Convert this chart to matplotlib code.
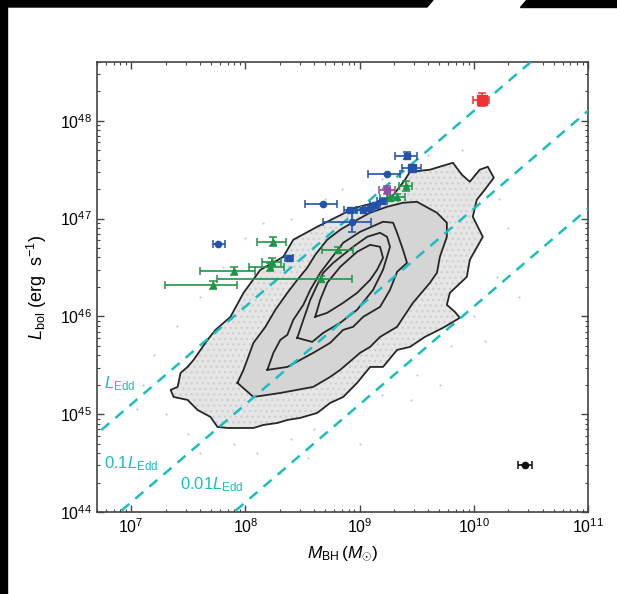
import numpy as np
import matplotlib
matplotlib.use("Agg")
import matplotlib.pyplot as plt
from matplotlib.patches import Polygon
from matplotlib.ticker import LogLocator, NullFormatter

plt.rcParams["font.family"] = ["Liberation Sans", "DejaVu Sans"]
plt.rcParams["mathtext.fontset"] = "custom"
plt.rcParams["mathtext.rm"] = "Liberation Sans"
plt.rcParams["mathtext.it"] = "Liberation Sans:italic"
plt.rcParams["mathtext.bf"] = "Liberation Sans:bold"
plt.rcParams["hatch.linewidth"] = 1.0

# ---- data (log10 M_BH [Msun], log10 L_bol [erg/s]) ----------------------
L_EDD_PER_MSUN = 1.26e38
EDD_FRACTIONS = [1.0, 0.1, 0.01]
EDD_LABELS = [r"$L_{\rm Edd}$", r"$0.1L_{\rm Edd}$", r"$0.01L_{\rm Edd}$"]
EDD_LABEL_LOGM = [6.76, 6.76, 7.43]
EDD_LABEL_LOGL = [45.31, 44.49, 44.28]

# quasar density contours, outermost first
contour_1 = [(7.668, 45.760), (7.546, 45.555), (7.493, 45.483), (7.432, 45.422),
             (7.406, 45.279), (7.345, 45.248), (7.371, 45.176), (7.493, 45.146),
             (7.581, 45.043), (7.694, 44.972), (7.755, 44.870), (7.843, 44.859),
             (8.070, 44.859), (8.157, 44.890), (8.279, 44.910), (8.367, 44.941),
             (8.480, 44.962), (8.629, 45.013), (8.742, 45.115), (8.856, 45.176),
             (8.978, 45.320), (9.092, 45.483), (9.205, 45.483), (9.328, 45.657),
             (9.441, 45.688), (9.572, 45.790), (9.729, 45.882), (9.878, 45.985),
             (9.834, 46.046), (9.764, 46.118), (9.790, 46.240), (9.939, 46.404),
             (9.965, 46.578), (10.079, 46.813), (9.991, 47.018), (10.026, 47.192),
             (10.096, 47.294), (10.175, 47.417), (10.122, 47.529), (10.052, 47.499),
             (9.965, 47.376), (9.895, 47.448), (9.817, 47.570), (9.616, 47.499),
             (9.441, 47.478), (9.397, 47.396), (9.284, 47.223), (9.135, 47.161),
             (8.961, 47.110), (8.803, 47.018), (8.629, 46.916), (8.419, 46.783),
             (8.332, 46.609), (8.131, 46.476), (7.983, 46.240), (7.869, 45.995),
             (7.738, 45.862)]
contour_2 = [(7.930, 45.320), (7.983, 45.453), (8.070, 45.729), (8.175, 45.893),
             (8.262, 46.067), (8.367, 46.240), (8.454, 46.373), (8.541, 46.496),
             (8.611, 46.629), (8.716, 46.783), (8.830, 46.885), (8.978, 46.987),
             (9.092, 47.059), (9.240, 47.120), (9.380, 47.161), (9.502, 47.171),
             (9.677, 47.059), (9.764, 46.957), (9.764, 46.813), (9.703, 46.609),
             (9.677, 46.445), (9.616, 46.343), (9.467, 46.138), (9.328, 45.893),
             (9.179, 45.790), (9.092, 45.688), (9.004, 45.627), (8.830, 45.453),
             (8.742, 45.381), (8.594, 45.279), (8.306, 45.217), (8.070, 45.176)]
contour_3 = [(8.192, 45.453), (8.245, 45.627), (8.306, 45.760), (8.367, 45.811),
             (8.419, 45.964), (8.507, 46.118), (8.568, 46.271), (8.655, 46.445),
             (8.742, 46.578), (8.856, 46.752), (9.004, 46.864), (9.205, 46.967),
             (9.293, 46.957), (9.328, 46.854), (9.380, 46.680), (9.415, 46.547),
             (9.328, 46.455), (9.266, 46.271), (9.179, 46.097), (9.031, 45.995),
             (8.943, 45.893), (8.856, 45.862), (8.742, 45.729), (8.594, 45.627),
             (8.367, 45.483)]
contour_4 = [(8.454, 45.780), (8.507, 45.964), (8.568, 46.169), (8.629, 46.322),
             (8.681, 46.445), (8.769, 46.547), (8.943, 46.711), (9.066, 46.813),
             (9.179, 46.854), (9.240, 46.813), (9.266, 46.711), (9.240, 46.609),
             (9.205, 46.476), (9.118, 46.271), (8.978, 46.067), (8.830, 45.934),
             (8.681, 45.831), (8.585, 45.739)]
contour_5 = [(8.611, 45.995), (8.655, 46.169), (8.716, 46.343), (8.830, 46.506),
             (8.978, 46.660), (9.092, 46.731), (9.179, 46.711), (9.205, 46.598),
             (9.153, 46.476), (9.092, 46.373), (8.978, 46.240), (8.856, 46.138),
             (8.716, 46.036)]
CONTOURS = [contour_1, contour_2, contour_3, contour_4, contour_5]

# sparse quasars lying outside the outermost contour
sparse_logm = [7.20, 7.30, 7.50, 7.90, 8.10, 8.40, 8.60, 8.90, 9.20, 9.50,
               9.80, 10.00, 10.20, 10.30, 10.22, 9.90, 9.60, 9.20, 8.70, 8.40,
               8.00, 7.80, 7.60, 7.40, 7.10, 8.30, 9.00, 9.70, 10.40, 7.60,
               8.15, 8.85, 9.45, 10.10, 7.05, 8.55]
sparse_logl = [45.60, 45.00, 44.80, 44.70, 44.60, 44.75, 44.85, 45.00, 45.20, 45.40,
               45.70, 46.00, 46.40, 46.90, 47.20, 47.70, 47.65, 47.40, 47.20, 47.00,
               46.80, 46.50, 46.20, 45.90, 45.30, 44.40, 44.70, 45.30, 46.20, 44.60,
               46.95, 47.30, 45.15, 45.75, 45.05, 44.55]

# high-z quasars: log M, log L, lower/upper log M error, log L error
blue_circ_logm = [7.764, 8.681, 8.934, 9.240]
blue_circ_logl = [46.742, 47.151, 46.967, 47.458]
blue_circ_mlo = [0.052, 0.157, 0.253, 0.166]
blue_circ_mhi = [0.061, 0.122, 0.166, 0.114]
blue_circ_lerr = [0.0, 0.0, 0.10, 0.0]

blue_sq_logm = [9.415, 9.459, 8.917, 9.031, 9.092, 9.135, 9.197, 8.384]
blue_sq_logl = [47.642, 47.519, 47.090, 47.090, 47.110, 47.141, 47.182, 46.598]
blue_sq_mlo = [0.105, 0.087, 0.050, 0.050, 0.045, 0.045, 0.045, 0.035]
blue_sq_mhi = [0.087, 0.079, 0.050, 0.050, 0.045, 0.045, 0.045, 0.035]
blue_sq_lerr = [0.035, 0.0, 0.0, 0.0, 0.0, 0.0, 0.0, 0.0]
blue_sq_big = [False, True, False, False, False, False, False, False]

green_logm = [8.245, 7.904, 7.712, 8.218, 8.236, 8.664, 8.812, 9.406, 9.328, 9.266]
green_logl = [46.762, 46.466, 46.322, 46.506, 46.558, 46.384, 46.680, 47.335, 47.223, 47.212]
green_mlo = [0.140, 0.306, 0.419, 0.183, 0.087, 0.909, 0.140, 0.061, 0.087, 0.087]
green_mhi = [0.113, 0.183, 0.210, 0.122, 0.079, 0.270, 0.131, 0.052, 0.070, 0.070]
green_lerr = [0.045, 0.04, 0.04, 0.04, 0.04, 0.03, 0.03, 0.05, 0.03, 0.03]

purple_logm = [9.240]
purple_logl = [47.294]
purple_mlo = [0.070]
purple_mhi = [0.070]
purple_lerr = [0.04]

red_logm = [10.070]
red_logl = [48.215]
red_mlo = [0.079]
red_mhi = [0.061]
red_lerr = [0.07]

black_logm = [10.445]
black_logl = [44.481]
black_mlo = [0.061]
black_mhi = [0.061]
black_lerr = [0.0]

CYAN = "#1DBDBD"
BLUE = "#2452A8"
GREEN = "#1E9448"
PURPLE = "#9A4AA6"
RED = "#EE3330"


def _errpoints(ax, logm, logl, mlo, mhi, lerr, color, marker, ms, big=None):
    logm = np.asarray(logm)
    logl = np.asarray(logl)
    m = 10 ** logm
    l = 10 ** logl
    xerr = [m - 10 ** (logm - np.asarray(mlo)), 10 ** (logm + np.asarray(mhi)) - m]
    yerr = [l - 10 ** (logl - np.asarray(lerr)), 10 ** (logl + np.asarray(lerr)) - l]
    for i in range(len(m)):
        size = ms * 1.5 if (big is not None and big[i]) else ms
        ax.errorbar([m[i]], [l[i]],
                    xerr=[[xerr[0][i]], [xerr[1][i]]],
                    yerr=[[yerr[0][i]], [yerr[1][i]]],
                    fmt=marker, color=color, ms=size, mec=color,
                    elinewidth=1.2, capsize=3, capthick=1.1, zorder=6)


fig = plt.figure(figsize=(6.17, 5.94), dpi=100)
ax = fig.add_axes([0.157, 0.138, 0.796, 0.758])

# ---- quasar cloud + density contours -----------------------------------
ax.scatter(10 ** np.array(sparse_logm), 10 ** np.array(sparse_logl),
           s=2.5, color="#c8c8c8", lw=0, zorder=1)
for k, cont in enumerate(CONTOURS):
    lm = np.array([p[0] for p in cont] + [cont[0][0]])
    ll = np.array([p[1] for p in cont] + [cont[0][1]])
    if k == 0:
        ax.fill(10 ** lm, 10 ** ll, facecolor="#e6e6e6", edgecolor="#d0d0d0",
                hatch="...", lw=0, zorder=1)
    elif k == 1:
        ax.fill(10 ** lm, 10 ** ll, facecolor="#d5d5d5", lw=0, zorder=1.5)
for cont in CONTOURS:
    lm = np.array([p[0] for p in cont] + [cont[0][0]])
    ll = np.array([p[1] for p in cont] + [cont[0][1]])
    ax.plot(10 ** lm, 10 ** ll, color="#262626", lw=1.3, zorder=2)

# ---- Eddington lines ---------------------------------------------------
mgrid = np.array([1e6, 1e12])
for frac in EDD_FRACTIONS:
    ax.plot(mgrid, frac * L_EDD_PER_MSUN * mgrid, color=CYAN, lw=1.8,
            ls=(0, (4.2, 3.2)), zorder=3)
for lab, lm, ll in zip(EDD_LABELS, EDD_LABEL_LOGM, EDD_LABEL_LOGL):
    ax.text(10 ** lm, 10 ** ll, lab, color=CYAN, fontsize=12,
            ha="left", va="center", zorder=4)

# ---- individual quasars ------------------------------------------------
_errpoints(ax, green_logm, green_logl, green_mlo, green_mhi, green_lerr,
           GREEN, "^", 4.5)
_errpoints(ax, blue_circ_logm, blue_circ_logl, blue_circ_mlo, blue_circ_mhi,
           blue_circ_lerr, BLUE, "o", 4.5)
_errpoints(ax, blue_sq_logm, blue_sq_logl, blue_sq_mlo, blue_sq_mhi,
           blue_sq_lerr, BLUE, "s", 4.0, big=blue_sq_big)
_errpoints(ax, purple_logm, purple_logl, purple_mlo, purple_mhi, purple_lerr,
           PURPLE, "s", 4.5)
_errpoints(ax, red_logm, red_logl, red_mlo, red_mhi, red_lerr, RED, "s", 6.5)
_errpoints(ax, black_logm, black_logl, black_mlo, black_mhi, black_lerr,
           "#111111", "o", 4.5)

# ---- axes --------------------------------------------------------------
ax.set_xscale("log")
ax.set_yscale("log")
ax.set_xlim(5e6, 1e11)
ax.set_ylim(1e44, 4e48)
ax.xaxis.set_major_locator(LogLocator(base=10, numticks=10))
ax.yaxis.set_major_locator(LogLocator(base=10, numticks=10))
ax.xaxis.set_minor_locator(LogLocator(base=10, subs=np.arange(2, 10), numticks=20))
ax.yaxis.set_minor_locator(LogLocator(base=10, subs=np.arange(2, 10), numticks=20))
ax.xaxis.set_minor_formatter(NullFormatter())
ax.yaxis.set_minor_formatter(NullFormatter())
ax.tick_params(which="both", direction="in", top=True, right=True,
               color="#444444", labelsize=11.5)
ax.tick_params(which="major", length=5, width=1.0)
ax.tick_params(which="minor", length=2.5, width=0.8)
for sp in ax.spines.values():
    sp.set_color("#444444")
    sp.set_linewidth(1.2)

ax.set_xlabel(r"$M_{\rm BH}\,(M_{\odot})$", fontsize=12.5, labelpad=6)
ax.set_ylabel(r"$L_{\rm bol}$ (erg  s$^{-1}$)", fontsize=13, labelpad=8)

# ---- black page border -------------------------------------------------
bw = 7 / 617
bh = 7 / 594
fig.patches.append(Polygon([(0, 0), (bw, 0), (bw, 1), (0, 1)], closed=True,
                           transform=fig.transFigure, color="black", zorder=10))
fig.patches.append(Polygon([(0, 1), (433 / 617, 1), (427 / 617, 1 - bh), (0, 1 - bh)],
                           closed=True, transform=fig.transFigure, color="black", zorder=10))
fig.patches.append(Polygon([(526 / 617, 1), (1, 1), (1, 1 - bh), (520 / 617, 1 - bh)],
                           closed=True, transform=fig.transFigure, color="black", zorder=10))

fig.savefig("out.png", dpi=100)
